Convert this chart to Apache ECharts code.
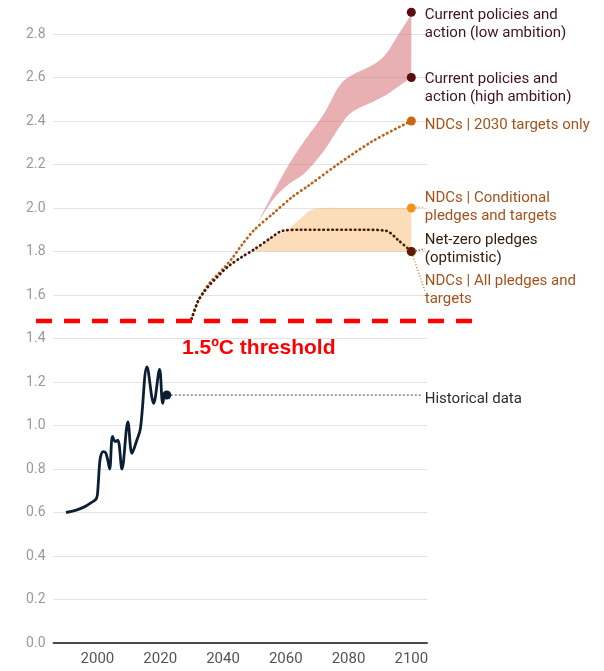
<!DOCTYPE html>
<html><head><meta charset="utf-8">
<script src="https://cdn.jsdelivr.net/npm/echarts@6/dist/echarts.min.js"></script>
<style>html,body{margin:0;padding:0;background:#fff}#c{width:604px;height:671px}</style>
</head><body><div id="c"></div>
<script>
// ---- data ----
const xTicks = [2000, 2020, 2040, 2060, 2080, 2100];
const histYears  = [1990, 1993, 1996, 1998, 1999.7, 2000.2, 2000.6, 2001, 2001.8, 2002.6, 2003.3, 2003.9, 2004.8, 2005.7, 2006.5, 2007.8, 2009.7, 2011, 2012.5, 2013.7, 2015.8, 2017.9, 2019.8, 2020.8, 2021.6, 2022.1];
const histValues = [0.60, 0.61, 0.627, 0.645, 0.665, 0.72, 0.81, 0.857, 0.88, 0.875, 0.84, 0.80, 0.95, 0.926, 0.933, 0.80, 1.017, 0.872, 0.93, 0.987, 1.27, 1.102, 1.258, 1.102, 1.148, 1.14];
const histConnectorYears = [2022.1, 2103];
const histConnectorValue = 1.14;
const histLabel = 'Historical data';

const ndcYears  = [2030, 2032, 2034, 2036, 2038, 2040, 2043, 2046, 2050, 2056, 2062, 2067, 2077, 2088, 2100];
const ndcValues = [1.49, 1.57, 1.62, 1.66, 1.69, 1.72, 1.77, 1.83, 1.90, 1.975, 2.05, 2.10, 2.205, 2.31, 2.40];

const nzYears  = [2030, 2032, 2034, 2036, 2038, 2040, 2042, 2046, 2050, 2055, 2059, 2065, 2075, 2085, 2092, 2096, 2100];
const nzValues = [1.49, 1.57, 1.615, 1.65, 1.68, 1.71, 1.735, 1.775, 1.81, 1.86, 1.895, 1.90, 1.90, 1.90, 1.895, 1.85, 1.80];

const pinkYears = [2051, 2056, 2061, 2066, 2072, 2077, 2081, 2088, 2092, 2096, 2100];
const pinkLower = [1.93, 2.04, 2.11, 2.16, 2.26, 2.37, 2.44, 2.49, 2.52, 2.56, 2.60];
const pinkUpper = [1.93, 2.07, 2.20, 2.31, 2.43, 2.56, 2.61, 2.66, 2.71, 2.80, 2.89];

const orangeYears = [2050, 2055, 2058, 2061, 2065, 2068, 2072, 2080, 2090, 2100];
const orangeLower = [1.80, 1.80, 1.80, 1.80, 1.80, 1.80, 1.80, 1.80, 1.80, 1.80];
const orangeUpper = [1.80, 1.86, 1.88, 1.905, 1.955, 1.99, 2.00, 2.00, 2.00, 2.00];

const endYear = 2100;
const endNames  = ['Current policies and\naction (low ambition)', 'Current policies and\naction (high ambition)', 'NDCs | 2030 targets only'];
const endValues = [2.9, 2.6, 2.4];
const end2Names  = ['NDCs | Conditional\npledges and targets', 'NDCs | All pledges and\ntargets', 'Net-zero pledges\n(optimistic)'];
const end2Values = [2.0, 1.8, 1.8];

const thresholdValue = 1.48;
const thresholdText = '1.5ºC threshold';

// ---- styles ----
const FONT = 'Roboto';
const endDotColors = ['#5c0a12', '#5c0a12', '#c9660f'];
const endTextColors = ['#3f141b', '#3f141b', '#a4521a'];
const endDy = [12, 11, 4];
const end2DotColors = ['#f29418', '#d9822e', '#5a1e06'];
const end2TextColors = ['#a4521c', '#a4521c', '#36200f'];
const end2Dy = [-1, 39, -2.5];

const pairs = (xs, ys) => xs.map((x, i) => [x, ys[i]]);

// Catmull-Rom smoothing of pixel points (rendering only)
function spline(pts, steps) {
  const out = [];
  for (let i = 0; i < pts.length - 1; i++) {
    const p0 = pts[Math.max(0, i - 1)], p1 = pts[i], p2 = pts[i + 1], p3 = pts[Math.min(pts.length - 1, i + 2)];
    for (let s = 0; s < steps; s++) {
      const t = s / steps, t2 = t * t, t3 = t2 * t;
      const f = (a, b, c, d) => 0.5 * ((2 * b) + (-a + c) * t + (2 * a - 5 * b + 4 * c - d) * t2 + (-a + 3 * b - 3 * c + d) * t3);
      out.push([f(p0[0], p1[0], p2[0], p3[0]), f(p0[1], p1[1], p2[1], p3[1])]);
    }
  }
  out.push(pts[pts.length - 1]);
  return out;
}
function bandSeries(years, lower, upper, fill) {
  return {
    type: 'custom', silent: true, z: 1,
    data: pairs(years, upper),
    encode: {x: 0, y: 1},
    renderItem: (params, api) => {
      if (params.dataIndex !== 0) return null;
      const up = spline(years.map((y, i) => api.coord([y, upper[i]])), 12);
      const lo = spline(years.map((y, i) => api.coord([y, lower[i]])), 12);
      return {type: 'polygon', shape: {points: up.concat(lo.reverse())}, style: {fill}};
    }
  };
}

const chart = echarts.init(document.getElementById('c'), null, {renderer: 'canvas'});
const dotted = (color) => ({color, width: 2.7, type: [0.5, 4], cap: 'round'});

chart.setOption({
  animation: false,
  backgroundColor: '#fff',
  grid: {left: 53.5, right: 177, top: 12.25, bottom: 28, containLabel: false},
  xAxis: {
    type: 'value', min: 1986, max: 2105,
    axisLine: {show: true, lineStyle: {color: '#4a4a4a', width: 2}},
    axisTick: {show: false},
    splitLine: {show: false},
    axisLabel: {customValues: xTicks, color: '#555', fontSize: 15, fontFamily: FONT, margin: 9,
      formatter: v => String(v)}
  },
  yAxis: {
    type: 'value', min: 0, max: 2.9, interval: 0.2,
    axisLine: {show: false}, axisTick: {show: false},
    splitLine: {lineStyle: {color: '#e3e3e3', width: 1}, showMaxLine: false},
    axisLabel: {color: '#9a9a9a', fontSize: 14, fontFamily: FONT, margin: 8, showMaxLabel: false,
      formatter: v => v.toFixed(1)}
  },
  series: [
    bandSeries(pinkYears, pinkLower, pinkUpper, 'rgba(212,104,112,0.52)'),
    bandSeries(orangeYears, orangeLower, orangeUpper, 'rgba(248,170,80,0.4)'),
    {type: 'line', name: 'ndc', data: pairs(ndcYears, ndcValues), smooth: 0.3, symbol: 'none',
      lineStyle: dotted('#b8621b'), z: 3},
    {type: 'line', name: 'nz', data: pairs(nzYears, nzValues), smooth: 0.3, symbol: 'none',
      lineStyle: dotted('#4a1a08'), z: 4},
    {type: 'line', name: 'histConn', data: histConnectorYears.map(y => [y, histConnectorValue]), symbol: 'none',
      lineStyle: {color: '#666', width: 1.2, type: [2, 2]},
      endLabel: {show: true, formatter: histLabel, color: '#2b2b2b', fontSize: 15, fontFamily: FONT, distance: 4, offset: [0, 4]}},
    {type: 'line', name: 'hist', data: pairs(histYears, histValues), smooth: 0.35, symbol: 'none',
      lineStyle: {color: '#0c1e33', width: 2.8}, z: 5},
    {type: 'scatter', name: 'histEnd', data: [[histYears[histYears.length - 1], histValues[histValues.length - 1]]],
      symbolSize: 9, itemStyle: {color: '#0c1e33', opacity: 1}, z: 6},
    {type: 'scatter', name: 'ends1', z: 7,
      data: endValues.map((v, i) => ({value: [endYear, v], symbolSize: 9, itemStyle: {color: endDotColors[i], opacity: 1},
        label: {show: true, formatter: endNames[i], color: endTextColors[i]}})),
      label: {position: 'right', distance: 9, fontSize: 15, lineHeight: 18, fontFamily: FONT, align: 'left'},
      labelLayout: p => ({dy: endDy[p.dataIndex]})},
    {type: 'scatter', name: 'ends2', z: 7,
      data: end2Values.map((v, i) => ({value: [endYear, v], symbolSize: 9, itemStyle: {color: end2DotColors[i], opacity: 1},
        label: {show: true, formatter: end2Names[i], color: end2TextColors[i]},
        labelLine: {show: true, lineStyle: {color: end2DotColors[i], width: 1.5, type: [1, 2]}}})),
      label: {position: 'right', distance: 9, fontSize: 15, lineHeight: 18, fontFamily: FONT, align: 'left'},
      labelLine: {show: true, lineStyle: {width: 1.5, type: [1, 2]}},
      labelLayout: p => ({dy: end2Dy[p.dataIndex]})}
  ]
});

const ty = chart.convertToPixel({yAxisIndex: 0}, thresholdValue);
chart.setOption({
  graphic: [
    {type: 'line', shape: {x1: 36, y1: ty, x2: 472, y2: ty}, z: 20,
      style: {stroke: '#ff0000', lineWidth: 4.5, lineDash: [16, 12]}},
    {type: 'text', x: 182, y: ty + 27, z: 20,
      style: {text: thresholdText, fill: '#ff0000', font: 'bold 21px "Liberation Sans"', verticalAlign: 'middle', align: 'left'}}
  ]
});
</script>
</body></html>
